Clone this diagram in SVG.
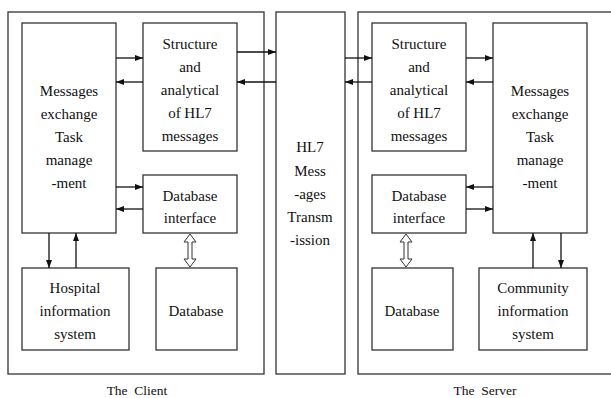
<svg xmlns="http://www.w3.org/2000/svg" width="611" height="398" viewBox="0 0 611 398">
<defs>
<style>
.box{fill:#fff;stroke:#333;stroke-width:1.3}
.frame{fill:none;stroke:#333;stroke-width:1.3}
.t{font-family:"Liberation Serif","Times New Roman",serif;font-size:15px;fill:#111;text-anchor:middle}
.lbl{font-family:"Liberation Serif","Times New Roman",serif;font-size:13.5px;fill:#111;text-anchor:middle}
.c{fill:none;stroke:#111;stroke-width:1.3;marker-end:url(#ah)}
.dbl{fill:#fff;stroke:#333;stroke-width:1}
</style>
<marker id="ah" viewBox="0 0 8 6" refX="8" refY="3" markerWidth="8" markerHeight="6" markerUnits="userSpaceOnUse" orient="auto">
<path d="M0,0 L8,3 L0,6 Z" fill="#111"/>
</marker>
</defs>
<rect width="611" height="398" fill="#fff"/>

<g id="client-frame">
<rect class="frame" x="8" y="12" width="256" height="362"/>
<text class="lbl" x="137" y="395" xml:space="preserve">The  Client</text>
</g>
<g id="hl7-transmission">
<rect class="box" x="276" y="12" width="69" height="362"/>
<text class="t" x="310" y="152">HL7</text>
<text class="t" x="310" y="176">Mess</text>
<text class="t" x="310" y="199">-ages</text>
<text class="t" x="310" y="222">Transm</text>
<text class="t" x="310" y="245">-ission</text>
</g>
<g id="server-frame">
<rect class="frame" x="358" y="12" width="260" height="362"/>
<text class="lbl" x="485" y="395" xml:space="preserve">The  Server</text>
</g>

<g id="client-messages">
<rect class="box" x="22" y="23" width="94" height="210"/>
<text class="t" x="69" y="96">Messages</text>
<text class="t" x="69" y="119">exchange</text>
<text class="t" x="69" y="142">Task</text>
<text class="t" x="69" y="165">manage</text>
<text class="t" x="69" y="188">-ment</text>
</g>
<g id="client-structure">
<rect class="box" x="143" y="23" width="94" height="128"/>
<text class="t" x="190" y="49">Structure</text>
<text class="t" x="190" y="72">and</text>
<text class="t" x="190" y="95">analytical</text>
<text class="t" x="190" y="118">of HL7</text>
<text class="t" x="190" y="141">messages</text>
</g>
<g id="client-dbi">
<rect class="box" x="143" y="175" width="94" height="58"/>
<text class="t" x="190" y="201">Database</text>
<text class="t" x="190" y="223">interface</text>
</g>
<g id="client-hospital">
<rect class="box" x="22" y="268" width="107" height="82"/>
<text class="t" x="75" y="293">Hospital</text>
<text class="t" x="75" y="316">information</text>
<text class="t" x="75" y="339">system</text>
</g>
<g id="client-database">
<rect class="box" x="156" y="268" width="81" height="82"/>
<text class="t" x="196" y="316">Database</text>
</g>

<g id="server-structure">
<rect class="box" x="372" y="23" width="94" height="128"/>
<text class="t" x="419" y="49">Structure</text>
<text class="t" x="419" y="72">and</text>
<text class="t" x="419" y="95">analytical</text>
<text class="t" x="419" y="118">of HL7</text>
<text class="t" x="419" y="141">messages</text>
</g>
<g id="server-messages">
<rect class="box" x="493" y="23" width="94" height="210"/>
<text class="t" x="540" y="96">Messages</text>
<text class="t" x="540" y="119">exchange</text>
<text class="t" x="540" y="142">Task</text>
<text class="t" x="540" y="165">manage</text>
<text class="t" x="540" y="188">-ment</text>
</g>
<g id="server-dbi">
<rect class="box" x="372" y="175" width="94" height="58"/>
<text class="t" x="419" y="201">Database</text>
<text class="t" x="419" y="223">interface</text>
</g>
<g id="server-database">
<rect class="box" x="372" y="268" width="81" height="82"/>
<text class="t" x="412" y="316">Database</text>
</g>
<g id="server-community">
<rect class="box" x="479" y="268" width="108" height="82"/>
<text class="t" x="533" y="293">Community</text>
<text class="t" x="533" y="316">information</text>
<text class="t" x="533" y="339">system</text>
</g>

<g id="connectors">
<path class="c" d="M116,58 H143"/>
<path class="c" d="M143,82 H116"/>
<path class="c" d="M237,52 H276"/>
<path class="c" d="M276,82 H237"/>
<path class="c" d="M116,187 H143"/>
<path class="c" d="M143,209 H116"/>
<path class="c" d="M49,233 V268"/>
<path class="c" d="M76,268 V233"/>
<path class="c" d="M345,58 H372"/>
<path class="c" d="M372,82 H345"/>
<path class="c" d="M466,58 H493"/>
<path class="c" d="M493,82 H466"/>
<path class="c" d="M493,187 H466"/>
<path class="c" d="M466,209 H493"/>
<path class="c" d="M533,268 V233"/>
<path class="c" d="M561,233 V268"/>
<path class="dbl" d="M190,234 L196,242 L192,242 L192,259 L196,259 L190,267 L184,259 L188,259 L188,242 L184,242 Z"/>
<path class="dbl" d="M406,234 L412,242 L408,242 L408,259 L412,259 L406,267 L400,259 L404,259 L404,242 L400,242 Z"/>
</g>
</svg>
